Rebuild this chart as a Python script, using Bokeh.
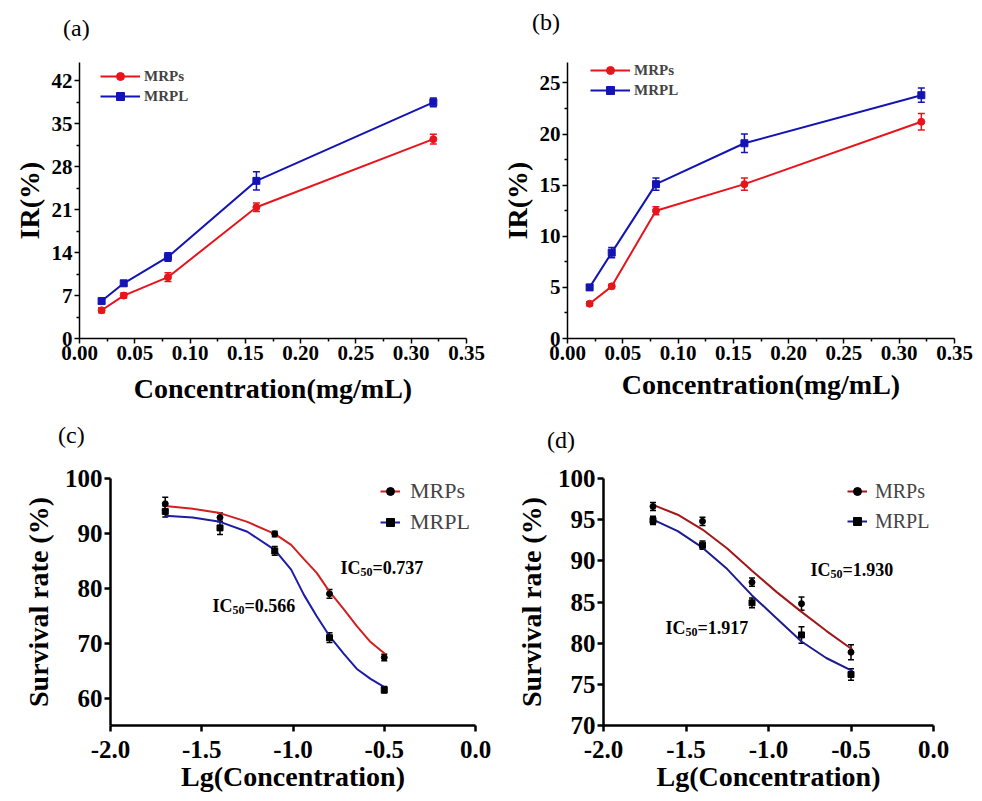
from bokeh.plotting import figure
from bokeh.models import (Range1d, FixedTicker, Whisker, ColumnDataSource, Label,
                          Legend, LegendItem, TeeHead, Div)
from bokeh.layouts import column, row
from bokeh.embed import file_html
from bokeh.resources import INLINE

FONT = "Liberation Serif"

# ---------------- data ----------------
conc = [0.02, 0.04, 0.08, 0.16, 0.32]
a_mrps = [4.6, 7.0, 10.0, 21.4, 32.5]
a_mrps_err = [0.4, 0.4, 0.7, 0.7, 0.8]
a_mrpl = [6.1, 9.0, 13.3, 25.7, 38.5]
a_mrpl_err = [0.3, 0.4, 0.7, 1.5, 0.7]

b_mrps = [3.4, 5.1, 12.5, 15.1, 21.2]
b_mrps_err = [0.2, 0.2, 0.4, 0.6, 0.8]
b_mrpl = [5.0, 8.4, 15.1, 19.1, 23.8]
b_mrpl_err = [0.2, 0.5, 0.6, 0.9, 0.7]

lg_conc = [-1.7, -1.4, -1.1, -0.8, -0.5]
c_mrps = [95.4, 92.9, 89.9, 79.0, 67.4]
c_mrps_err = [1.2, 0.8, 0.5, 0.8, 0.6]
c_mrpl = [94.0, 91.0, 86.8, 71.0, 61.5]
c_mrpl_err = [1.0, 1.2, 0.8, 0.9, 0.6]

d_mrps = [96.6, 94.8, 87.4, 84.8, 78.9]
d_mrps_err = [0.5, 0.5, 0.5, 0.8, 0.9]
d_mrpl = [94.9, 91.9, 84.9, 81.0, 76.2]
d_mrpl_err = [0.5, 0.5, 0.6, 1.0, 0.7]

# fitted curves
c_fit_x = [-1.70, -1.55, -1.40, -1.25, -1.10, -1.01, -0.94, -0.87, -0.80, -0.72, -0.65, -0.575, -0.49]
c_fit_mrps = [95.0, 94.5, 93.7, 92.1, 89.9, 87.9, 85.3, 82.8, 79.4, 76.1, 73.1, 70.2, 67.9]
c_fit_mrpl = [93.2, 92.9, 92.1, 90.3, 87.0, 83.4, 78.8, 74.9, 71.3, 68.0, 65.3, 63.5, 61.8]
d_fit_x = [-1.70, -1.55, -1.40, -1.25, -1.10, -0.95, -0.80, -0.65, -0.49]
d_fit_mrps = [96.8, 95.6, 93.8, 91.5, 88.8, 86.2, 83.8, 81.5, 79.2]
d_fit_mrpl = [95.0, 93.6, 91.6, 89.0, 85.8, 83.0, 80.2, 78.2, 76.6]

ab_xticks = [0.0, 0.05, 0.10, 0.15, 0.20, 0.25, 0.30, 0.35]
ab_xminor = [0.025, 0.075, 0.125, 0.175, 0.225, 0.275, 0.325]
a_yticks = [0, 7, 14, 21, 28, 35, 42]
a_yminor = [3.5, 10.5, 17.5, 24.5, 31.5, 38.5]
b_yticks = [0, 5, 10, 15, 20, 25]
b_yminor = [2.5, 7.5, 12.5, 17.5, 22.5]
cd_xticks = [-2.0, -1.5, -1.0, -0.5, 0.0]
c_yticks = [60, 70, 80, 90, 100]
d_yticks = [70, 75, 80, 85, 90, 95, 100]

panel_tags = ["(a)", "(b)", "(c)", "(d)"]


def tag_div(text, w, h, pad_top, pad_left):
    html = (f'<div style="font-family:\'{FONT}\'; font-size:24px; line-height:24px; '
            f'color:black; padding-top:{pad_top}px; padding-left:{pad_left}px; '
            f'margin:0; white-space:nowrap;">{text}</div>')
    return Div(text=html, width=w, height=h, margin=0)


def make_fig(w, h, bl, br, bt, bb, xr, yr):
    p = figure(width=w, height=h, output_backend="svg", toolbar_location=None,
               x_range=Range1d(*xr), y_range=Range1d(*yr),
               min_border_left=bl, min_border_right=br, min_border_top=bt,
               min_border_bottom=bb)
    p.outline_line_color = None
    p.grid.grid_line_color = None
    p.background_fill_color = "white"
    p.border_fill_color = "white"
    return p


def style_axes(p, xt, yt, xminor, yminor, xlabel, ylabel, tick_font, title_font,
               lw, tick_len, lab_standoff, title_standoff_x, title_standoff_y, fmt):
    p.xaxis.ticker = FixedTicker(ticks=xt, minor_ticks=xminor)
    p.yaxis.ticker = FixedTicker(ticks=yt, minor_ticks=yminor)
    for ax in (p.xaxis[0], p.yaxis[0]):
        ax.axis_line_width = lw
        ax.axis_line_color = "black"
        ax.major_tick_line_width = lw
        ax.major_tick_line_color = "black"
        ax.major_tick_out = tick_len
        ax.major_tick_in = 0
        ax.minor_tick_line_width = lw
        ax.minor_tick_line_color = "black" if (xminor or yminor) else None
        ax.minor_tick_out = tick_len // 2 + 1
        ax.minor_tick_in = 0
        ax.major_label_text_font = FONT
        ax.major_label_text_font_style = "bold"
        ax.major_label_text_font_size = f"{tick_font}px"
        ax.major_label_text_color = "black"
        ax.major_label_standoff = lab_standoff
        ax.axis_label_text_font = FONT
        ax.axis_label_text_font_style = "bold"
        ax.axis_label_text_font_size = f"{title_font}px"
        ax.axis_label_text_color = "black"
    p.xaxis.axis_label = xlabel
    p.yaxis.axis_label = ylabel
    p.xaxis.axis_label_standoff = title_standoff_x
    p.yaxis.axis_label_standoff = title_standoff_y
    p.yaxis.major_label_standoff = 2
    p.xaxis.major_label_overrides = {t: fmt(t) for t in xt}


def add_series(p, x, y, err, marker, msize, marker_color, whisk_color, head):
    src = ColumnDataSource(dict(x=x, y=y,
                                upper=[v + e for v, e in zip(y, err)],
                                lower=[v - e for v, e in zip(y, err)]))
    w = Whisker(source=src, base="x", upper="upper", lower="lower",
                line_color=whisk_color, line_width=1.5,
                upper_head=TeeHead(size=head, line_color=whisk_color, line_width=1.5),
                lower_head=TeeHead(size=head, line_color=whisk_color, line_width=1.5))
    p.add_layout(w)
    sc = p.scatter("x", "y", source=src, marker=marker, size=msize,
                   fill_color=marker_color, line_color=marker_color)
    return sc


def ic_label(p, x, y, value_text):
    common = dict(text_font=FONT, text_font_style="bold", text_color="black",
                  text_baseline="middle", text_align="left")
    p.add_layout(Label(x=x, y=y, text="IC", text_font_size="18px", **common))
    p.add_layout(Label(x=x, y=y, x_offset=20, y_offset=-4, text="50",
                       text_font_size="12px", **common))
    p.add_layout(Label(x=x, y=y, x_offset=32, text="=" + value_text,
                       text_font_size="18px", **common))


def make_legend(items, loc, gw, gh, spacing, standoff, size, style):
    return Legend(items=items, location=loc, padding=0, margin=0, spacing=spacing,
                  glyph_width=gw, glyph_height=gh, label_height=gh,
                  label_standoff=standoff, label_text_font=FONT,
                  label_text_font_style=style, label_text_font_size=f"{size}px",
                  border_line_color=None, background_fill_alpha=0)


RED_A, BLUE_A = "#e8141c", "#1414b4"
TOP_DIV_H = 40

# ---------------- panel (a) ----------------
pa = make_fig(498, 413 - TOP_DIV_H, 79, 32, 62 - TOP_DIV_H, 75, (0, 0.35), (0, 45))
style_axes(pa, ab_xticks, a_yticks, ab_xminor, a_yminor, "Concentration(mg/mL)", "IR(%)",
           21, 28, 1.5, 5, 2, 10, 4, lambda t: f"{t:.2f}")
la1 = pa.line(conc, a_mrps, line_color=RED_A, line_width=2)
sa1 = add_series(pa, conc, a_mrps, a_mrps_err, "circle", 7, RED_A, RED_A, 7)
la2 = pa.line(conc, a_mrpl, line_color=BLUE_A, line_width=2)
sa2 = add_series(pa, conc, a_mrpl, a_mrpl_err, "square", 7, BLUE_A, BLUE_A, 7)
pa.add_layout(make_legend([LegendItem(label="MRPs", renderers=[la1, sa1]),
                           LegendItem(label="MRPL", renderers=[la2, sa2])],
                          (21, 276 - 44), 40, 20, 0, 4, 15, "bold"))

# ---------------- panel (b) ----------------
pb = make_fig(484, 413 - TOP_DIV_H, 56, 28, 62 - TOP_DIV_H, 69, (0, 0.35), (0, 27))
style_axes(pb, ab_xticks, b_yticks, ab_xminor, b_yminor, "Concentration(mg/mL)", "IR(%)",
           21, 28, 1.5, 5, 2, 6, 4, lambda t: f"{t:.2f}")
lb1 = pb.line(conc, b_mrps, line_color=RED_A, line_width=2)
sb1 = add_series(pb, conc, b_mrps, b_mrps_err, "circle", 7, RED_A, RED_A, 7)
lb2 = pb.line(conc, b_mrpl, line_color=BLUE_A, line_width=2)
sb2 = add_series(pb, conc, b_mrpl, b_mrpl_err, "square", 7, BLUE_A, BLUE_A, 7)
pb.add_layout(make_legend([LegendItem(label="MRPs", renderers=[lb1, sb1]),
                           LegendItem(label="MRPL", renderers=[lb2, sb2])],
                          (23, 282 - 44), 40, 20, 0, 4, 15, "bold"))

# ---------------- panel (c) ----------------
RED_C, BLUE_C = "#d02020", "#1c1ca8"
BOT_DIV_H = 40
pc = make_fig(498, 388 - BOT_DIV_H, 110, 23, 65 - BOT_DIV_H, 76, (-2.0, 0.0), (55, 100))
style_axes(pc, cd_xticks, c_yticks, [], [], "Lg(Concentration)", "Survival rate (%)",
           25, 28, 2.5, 6, 9, 0, 8, lambda t: f"{t:.1f}")
lc1 = pc.line(c_fit_x, c_fit_mrps, line_color=RED_C, line_width=2)
sc1 = add_series(pc, lg_conc, c_mrps, c_mrps_err, "circle", 6, "black", "black", 6)
lc2 = pc.line(c_fit_x, c_fit_mrpl, line_color=BLUE_C, line_width=2)
sc2 = add_series(pc, lg_conc, c_mrpl, c_mrpl_err, "square", 6, "black", "black", 6)
pc.add_layout(make_legend([LegendItem(label="MRPs", renderers=[lc1, sc1]),
                           LegendItem(label="MRPL", renderers=[lc2, sc2])],
                          (270, 247 - 57), 20, 24, 5, 10, 22, "normal"))
ic_label(pc, -0.740, 83.65, "0.737")
ic_label(pc, -1.441, 76.7, "0.566")

# ---------------- panel (d) ----------------
RED_D, BLUE_D = "#a01818", "#1c1c90"
pd_ = make_fig(484, 388 - BOT_DIV_H, 105, 49, 62 - BOT_DIV_H, 76, (-2.0, 0.0), (70, 100))
style_axes(pd_, cd_xticks, d_yticks, [], [], "Lg(Concentration)", "Survival rate (%)",
           25, 28, 2.5, 6, 9, 0, 8, lambda t: f"{t:.1f}")
ld1 = pd_.line(d_fit_x, d_fit_mrps, line_color=RED_D, line_width=2)
sd1 = add_series(pd_, lg_conc, d_mrps, d_mrps_err, "circle", 6, "black", "black", 6)
ld2 = pd_.line(d_fit_x, d_fit_mrpl, line_color=BLUE_D, line_width=2)
sd2 = add_series(pd_, lg_conc, d_mrpl, d_mrpl_err, "square", 6, "black", "black", 6)
pd_.add_layout(make_legend([LegendItem(label="MRPs", renderers=[ld1, sd1]),
                            LegendItem(label="MRPL", renderers=[ld2, sd2])],
                           (244, 250 - 58), 20, 24, 6, 8, 20, "normal"))
ic_label(pd_, -0.745, 88.9, "1.930")
ic_label(pd_, -1.624, 81.85, "1.917")

div_a = tag_div(panel_tags[0], 498, TOP_DIV_H, 16, 63)
div_b = tag_div(panel_tags[1], 484, TOP_DIV_H, 10, 34)
div_c = tag_div(panel_tags[2], 498, BOT_DIV_H, 10, 58)
div_d = tag_div(panel_tags[3], 484, BOT_DIV_H, 15, 49)

layout = column(row(div_a, div_b), row(pa, pb), row(div_c, div_d), row(pc, pd_))
open("out.html", "w").write(file_html(layout, INLINE))
